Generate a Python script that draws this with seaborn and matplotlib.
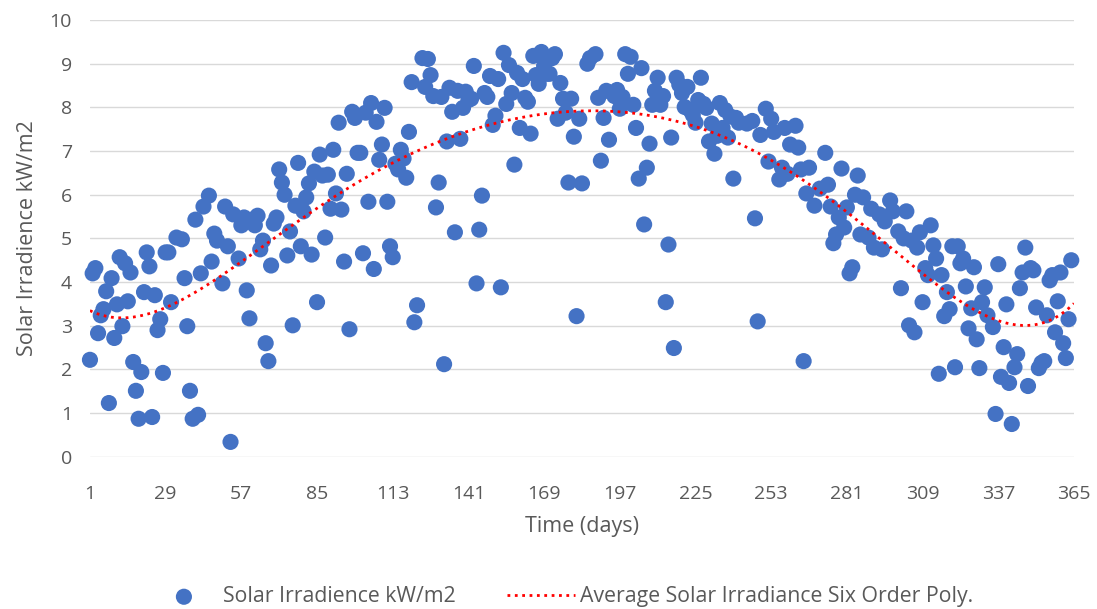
import numpy as np
import pandas as pd
import matplotlib
matplotlib.use('Agg')
import matplotlib.pyplot as plt
import seaborn as sns

# days (x) and daily solar irradiance (y)
days = [1, 2, 3, 4, 5, 6, 7, 8, 9, 10, 11, 12, 13, 14, 15, 16, 17, 18, 19, 20,
        21, 22, 23, 24, 25, 26, 27, 28, 29, 30, 31, 33, 35, 36, 37, 38, 39, 40, 41, 42,
        43, 45, 46, 47, 48, 50, 51, 52, 53, 54, 56, 57, 58, 59, 60, 61, 62, 63, 64, 65,
        66, 67, 68, 69, 70, 71, 72, 73, 74, 75, 76, 77, 78, 79, 80, 81, 82, 83, 84, 85,
        86, 87, 88, 89, 90, 91, 92, 93, 94, 95, 96, 97, 98, 99, 100, 101, 102, 103, 104, 105,
        106, 107, 108, 109, 110, 111, 112, 113, 114, 115, 116, 117, 118, 119, 120, 121, 122, 124, 125, 126,
        127, 128, 129, 130, 131, 132, 133, 134, 135, 136, 137, 138, 139, 140, 141, 142, 143, 144, 145, 146,
        147, 148, 149, 150, 151, 152, 153, 154, 155, 156, 157, 158, 159, 160, 161, 162, 163, 164, 165, 166,
        167, 168, 169, 170, 171, 172, 173, 174, 175, 176, 177, 178, 179, 180, 181, 182, 183, 185, 186, 188,
        189, 190, 191, 192, 193, 195, 196, 197, 198, 199, 200, 201, 202, 203, 204, 205, 206, 207, 208, 209,
        210, 211, 212, 213, 214, 215, 216, 217, 218, 219, 220, 221, 222, 223, 224, 225, 226, 227, 228, 229,
        230, 231, 232, 233, 234, 235, 236, 237, 238, 239, 240, 241, 244, 246, 247, 248, 249, 251, 252, 253,
        254, 256, 257, 258, 259, 260, 262, 263, 264, 265, 266, 267, 269, 271, 273, 274, 275, 276, 277, 278,
        279, 280, 281, 282, 283, 284, 285, 286, 287, 289, 290, 291, 293, 294, 295, 297, 298, 300, 301, 302,
        303, 304, 305, 306, 307, 308, 309, 310, 311, 312, 313, 314, 315, 316, 317, 318, 319, 320, 321, 322,
        323, 324, 325, 326, 327, 328, 329, 330, 331, 332, 333, 335, 336, 337, 338, 339, 340, 341, 342, 343,
        344, 345, 346, 347, 348, 349, 350, 351, 352, 353, 354, 355, 356, 357, 358, 359, 360, 361, 362, 363,
        364]

irradiance = [2.22, 4.20, 4.32, 2.83, 3.24, 3.38, 3.79, 1.23, 4.09, 2.72, 3.49, 4.57, 2.99, 4.43, 3.56, 4.22, 2.17, 1.51, 0.87, 1.94,
              3.77, 4.68, 4.36, 0.91, 3.70, 2.90, 3.15, 1.92, 4.68, 4.68, 3.54, 5.02, 4.98, 4.09, 2.99, 1.51, 0.87, 5.43, 0.96, 4.20,
              5.73, 5.98, 4.47, 5.11, 4.95, 3.97, 5.73, 4.82, 0.34, 5.55, 4.54, 5.30, 5.48, 3.81, 3.17, 5.43, 5.30, 5.52, 4.75, 4.95,
              2.60, 2.19, 4.38, 5.34, 5.48, 6.58, 6.28, 6.00, 4.61, 5.16, 3.01, 5.75, 6.73, 4.82, 5.62, 5.94, 6.26, 4.63, 6.53, 3.54,
              6.92, 6.44, 5.02, 6.46, 5.68, 7.03, 6.03, 7.65, 5.66, 4.47, 6.48, 2.92, 7.90, 7.76, 6.96, 6.96, 4.66, 7.88, 5.84, 8.10,
              4.30, 7.67, 6.80, 7.15, 7.99, 5.84, 4.82, 4.57, 6.71, 6.58, 7.03, 6.83, 6.39, 7.44, 8.58, 3.08, 3.47, 9.13, 8.47, 9.11,
              8.74, 8.26, 5.71, 6.28, 8.24, 2.12, 7.22, 8.45, 7.90, 5.14, 8.38, 7.28, 7.99, 8.36, 8.17, 8.20, 8.95, 3.97, 5.20, 5.98,
              8.33, 8.24, 8.72, 7.60, 7.81, 8.65, 3.88, 9.25, 8.08, 8.97, 8.33, 6.69, 8.79, 7.53, 8.65, 8.22, 8.13, 7.40, 9.18, 8.74,
              8.54, 9.27, 8.95, 8.77, 8.77, 9.13, 9.22, 7.74, 8.56, 8.20, 7.88, 6.28, 8.20, 7.33, 3.22, 7.74, 6.26, 9.00, 9.13, 9.22,
              8.22, 6.78, 7.76, 8.38, 7.26, 8.26, 8.40, 7.97, 8.24, 9.22, 8.77, 9.16, 8.06, 7.53, 6.37, 8.90, 5.32, 6.62, 7.17, 8.06,
              8.38, 8.68, 8.06, 8.26, 3.54, 4.86, 7.31, 2.49, 8.68, 8.52, 8.33, 8.01, 8.47, 7.94, 7.83, 7.65, 8.17, 8.68, 8.08, 7.99,
              7.22, 7.63, 6.94, 7.35, 8.10, 7.53, 7.94, 7.31, 7.79, 6.37, 7.76, 7.65, 7.63, 7.69, 5.46, 3.10, 7.37, 7.97, 6.76, 7.74,
              7.44, 6.35, 6.62, 7.53, 6.48, 7.15, 7.58, 7.08, 6.58, 2.19, 6.03, 6.62, 5.75, 6.14, 6.96, 6.23, 5.73, 4.89, 5.09, 5.48,
              6.60, 5.25, 5.71, 4.20, 4.34, 6.00, 6.44, 5.09, 5.94, 5.02, 5.68, 4.79, 5.55, 4.75, 5.39, 5.87, 5.62, 5.16, 3.86, 5.00,
              5.62, 3.01, 4.95, 2.85, 4.79, 5.14, 3.54, 4.32, 4.16, 5.30, 4.84, 4.54, 1.90, 4.16, 3.22, 3.77, 3.38, 4.82, 2.05, 4.82,
              4.43, 4.54, 3.90, 2.94, 3.40, 4.34, 2.69, 2.03, 3.54, 3.88, 3.24, 2.97, 0.98, 4.41, 1.83, 2.51, 3.49, 1.69, 0.75, 2.05,
              2.35, 3.86, 4.22, 4.79, 1.62, 4.32, 4.27, 3.42, 2.03, 2.15, 2.19, 3.24, 4.04, 4.16, 2.85, 3.56, 4.22, 2.60, 2.26, 3.15,
              4.50]

xticks = list(range(1, 366, 28))
yticks = list(range(0, 11))

df = pd.DataFrame({'day': days, 'irradiance': irradiance})

# six order polynomial trend (as Excel's trendline)
xs = (df['day'] - 183) / 182
coef = np.polyfit(xs, df['irradiance'], 6)
trend_days = np.arange(1, 366)
trend = np.polyval(coef, (trend_days - 183) / 182)
trend_df = pd.DataFrame({'day': trend_days, 'trend': trend})

sns.set_theme(style='whitegrid')
plt.rcParams['font.family'] = ['Open Sans', 'DejaVu Sans']
text_color = '#595959'

fig = plt.figure(figsize=(10.97, 6.09), dpi=100)
ax = fig.add_axes([0.082, 0.25, 0.897, 0.717])

sns.scatterplot(data=df, x='day', y='irradiance', ax=ax, color='#4472C4', s=135,
                edgecolor='none', label='Solar Irradience kW/m2', clip_on=False, zorder=3)
sns.lineplot(data=trend_df, x='day', y='trend', ax=ax, color='#FF0000', linestyle=':',
             linewidth=2.0, label='Average Solar Irradiance Six Order Poly.', zorder=4)

ax.set_xlim(1, 365)
ax.set_ylim(0, 10)
ax.set_xticks(xticks)
ax.set_yticks(yticks)
ax.grid(axis='y', color='#D9D9D9', linewidth=1.0)
ax.grid(axis='x', visible=False)
for s in ax.spines.values():
    s.set_visible(False)
ax.tick_params(axis='x', length=0, pad=20, labelsize=14, labelcolor=text_color)
ax.tick_params(axis='y', length=0, pad=13, labelsize=14, labelcolor=text_color)
ax.set_xlabel('Time (days)', fontsize=15.5, color=text_color, labelpad=10)
ax.set_ylabel('Solar Irradience kW/m2', fontsize=15.5, color=text_color, labelpad=8)

handles, labels = ax.get_legend_handles_labels()
ax.get_legend().remove()
fig.legend(handles, labels, loc='center', bbox_to_anchor=(0.512, 0.02), ncol=2,
           frameon=False, fontsize=15.3, labelcolor=text_color, handlelength=3.2,
           handletextpad=0.25, columnspacing=2.4, markerscale=1.0)

fig.savefig('out.png', dpi=100)
